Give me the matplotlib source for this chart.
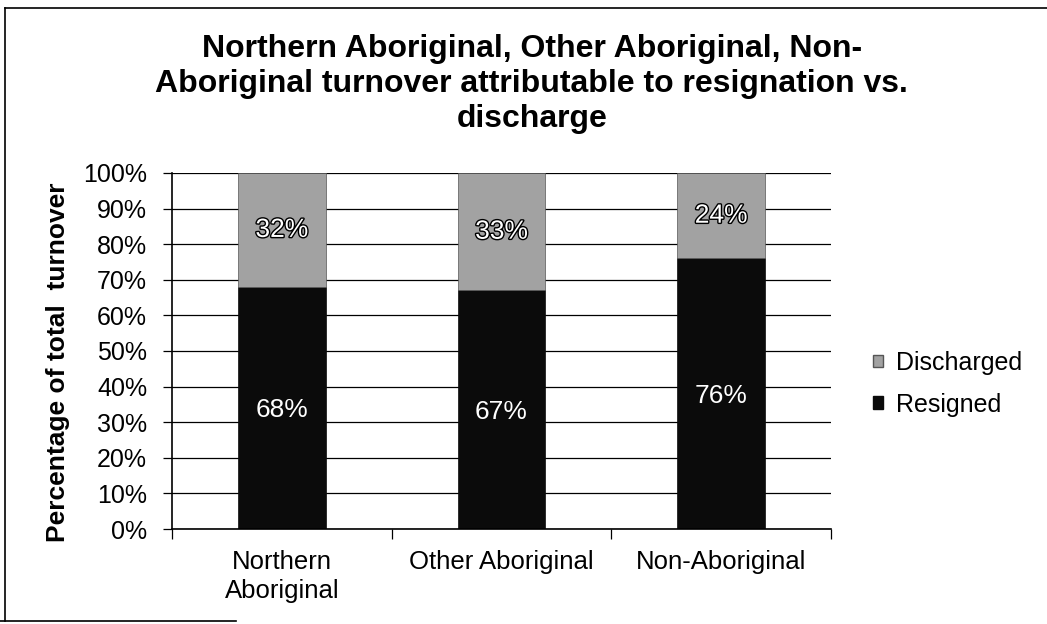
import numpy as np
import matplotlib.pyplot as plt
import matplotlib.patheffects as pe
from matplotlib.patches import Patch
from matplotlib.lines import Line2D

plt.rcParams["font.family"] = ["Liberation Sans", "DejaVu Sans"]

categories = ["Northern\nAboriginal", "Other Aboriginal", "Non-Aboriginal"]
resigned = [68, 67, 76]
discharged = [32, 33, 24]
yticks = [0, 10, 20, 30, 40, 50, 60, 70, 80, 90, 100]

title = ("Northern Aboriginal, Other Aboriginal, Non-\n"
         "Aboriginal turnover attributable to resignation vs.\n"
         "discharge")

dark = "#0b0b0b"
light = "#a2a2a2"

fig = plt.figure(figsize=(10.47, 6.24), dpi=100)
ax = fig.add_axes([0.1643, 0.1522, 0.7937 - 0.1643, 0.7228 - 0.1522])

x = np.arange(len(categories))
width = 0.40

ax.set_axisbelow(True)
ax.yaxis.grid(True, color="black", linewidth=0.9)

bars_r = ax.bar(x, resigned, width=width, color=dark, edgecolor=dark, linewidth=0.5)
bars_d = ax.bar(x, discharged, width=width, bottom=resigned, color=light,
                edgecolor="#555555", linewidth=0.5)

for i in range(len(categories)):
    ax.text(x[i], resigned[i] / 2 - 0.5, f"{resigned[i]}%", ha="center", va="center",
            color="white", fontsize=19)
    t = ax.text(x[i], resigned[i] + discharged[i] / 2, f"{discharged[i]}%",
                ha="center", va="center", color="white", fontsize=19)
    t.set_path_effects([pe.withStroke(linewidth=2, foreground="black")])

ax.set_xlim(-0.5, len(categories) - 0.5)
ax.set_ylim(0, 100)
ax.set_yticks(yticks)
ax.set_yticklabels([f"{v}%" for v in yticks], fontsize=18)
ax.tick_params(axis="y", direction="out", length=6.5, width=0.9, pad=11.5)

ax.set_xticks(x)
ax.set_xticklabels(categories, fontsize=18.5, linespacing=1.25)
ax.set_xticks(np.arange(-0.5, len(categories)), minor=True)
ax.tick_params(axis="x", which="major", length=0, pad=15)
ax.tick_params(axis="x", which="minor", direction="out", length=7, width=0.9)

for s in ["top", "right"]:
    ax.spines[s].set_visible(False)
ax.spines["left"].set_linewidth(1.2)
ax.spines["bottom"].set_linewidth(1.2)

fig.text(0.508, 0.866, title, ha="center", va="center", fontsize=23,
         fontweight="bold", linespacing=1.22)
fig.text(0.0554, 0.42, "Percentage of total  turnover", rotation=90,
         ha="center", va="center", fontsize=19, fontweight="bold")

handles = [Patch(facecolor=light, edgecolor="#555555"),
           Patch(facecolor=dark, edgecolor=dark)]
fig.legend(handles, ["Discharged", "Resigned"], loc="center left",
           bbox_to_anchor=(0.834, 0.385), frameon=False, fontsize=18,
           handlelength=0.4, handleheight=0.4, handletextpad=0.5,
           labelspacing=0.7, borderpad=0, borderaxespad=0)

# scanned page border
fig.add_artist(Line2D([0.005, 0.005], [0.005, 0.987], color="black", linewidth=1.2))
fig.add_artist(Line2D([0.005, 1.0], [0.987, 0.987], color="black", linewidth=1.2))
fig.add_artist(Line2D([0.0, 0.225], [0.005, 0.005], color="black", linewidth=1.2))

fig.savefig("out.png", dpi=100)
